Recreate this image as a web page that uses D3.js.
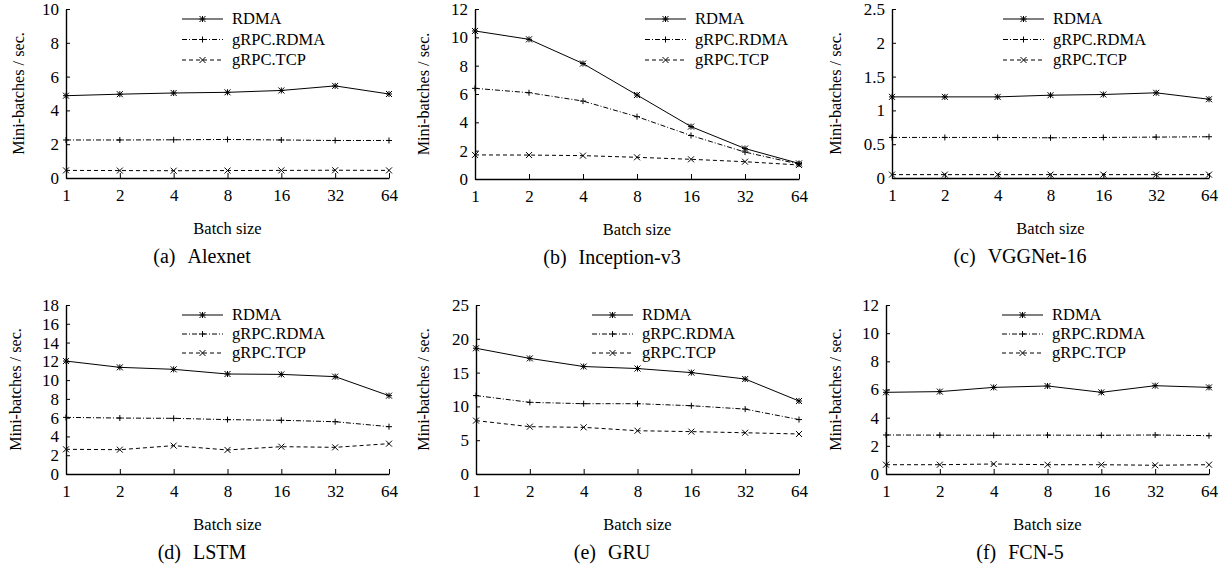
<!DOCTYPE html>
<html>
<head>
<meta charset="utf-8">
<script src="https://cdn.jsdelivr.net/npm/d3@7/dist/d3.min.js"></script>
<style>
  body { margin: 0; background: #fff; }
  svg text { font-family: "Liberation Serif", "Times New Roman", serif; fill: #000; }
</style>
</head>
<body>
<script>
// batch sizes on the x axis
var batches = ["1", "2", "4", "8", "16", "32", "64"];
var seriesNames = ["RDMA", "gRPC.RDMA", "gRPC.TCP"];

// values (mini-batches / sec.)
var alexnetRdma   = [4.87, 4.96, 5.03, 5.07, 5.18, 5.45, 4.97];
var alexnetGrpcR  = [2.25, 2.25, 2.26, 2.28, 2.25, 2.22, 2.22];
var alexnetTcp    = [0.45, 0.44, 0.43, 0.44, 0.45, 0.46, 0.45];

var inceptionRdma  = [10.45, 9.86, 8.15, 5.93, 3.7, 2.15, 1.1];
var inceptionGrpcR = [6.4, 6.09, 5.5, 4.4, 3.07, 1.9, 1.05];
var inceptionTcp   = [1.7, 1.69, 1.65, 1.53, 1.39, 1.22, 0.99];

var vggRdma   = [1.2, 1.2, 1.2, 1.225, 1.235, 1.26, 1.165];
var vggGrpcR  = [0.6, 0.6, 0.6, 0.595, 0.6, 0.605, 0.61];
var vggTcp    = [0.05, 0.05, 0.05, 0.05, 0.05, 0.05, 0.05];

var lstmRdma  = [12.03, 11.36, 11.15, 10.65, 10.61, 10.37, 8.34];
var lstmGrpcR = [6.03, 5.96, 5.93, 5.79, 5.72, 5.57, 5.04];
var lstmTcp   = [2.63, 2.59, 3.02, 2.56, 2.91, 2.84, 3.23];

var gruRdma   = [18.6, 17.1, 15.9, 15.6, 15.0, 14.05, 10.8];
var gruGrpcR  = [11.6, 10.6, 10.4, 10.4, 10.1, 9.6, 8.05];
var gruTcp    = [7.9, 7.0, 6.9, 6.4, 6.27, 6.1, 5.92];

var fcnRdma   = [5.8, 5.85, 6.15, 6.25, 5.8, 6.27, 6.15];
var fcnGrpcR  = [2.77, 2.76, 2.75, 2.76, 2.75, 2.77, 2.72];
var fcnTcp    = [0.66, 0.66, 0.71, 0.66, 0.66, 0.62, 0.66];

var captionTags  = ["(a)", "(b)", "(c)", "(d)", "(e)", "(f)"];
var captionNames = ["Alexnet", "Inception-v3", "VGGNet-16", "LSTM", "GRU", "FCN-5"];
var yMaxes = [10, 12, 2.5, 18, 25, 12];
var yTicks = [
  [0, 2, 4, 6, 8, 10],
  [0, 2, 4, 6, 8, 10, 12],
  [0, 0.5, 1, 1.5, 2, 2.5],
  [0, 2, 4, 6, 8, 10, 12, 14, 16, 18],
  [0, 5, 10, 15, 20, 25],
  [0, 2, 4, 6, 8, 10, 12]
];
var panelSeries = [
  [alexnetRdma, alexnetGrpcR, alexnetTcp],
  [inceptionRdma, inceptionGrpcR, inceptionTcp],
  [vggRdma, vggGrpcR, vggTcp],
  [lstmRdma, lstmGrpcR, lstmTcp],
  [gruRdma, gruGrpcR, gruTcp],
  [fcnRdma, fcnGrpcR, fcnTcp]
];

// layout of each sub plot (pixels)
var layout = [
  {left: 66,  right: 389,  top: 9,   bottom: 178, ylab: 18,  legX: 182,  legY: 19,  legDy: 20.5, capX: 202},
  {left: 475, right: 799,  top: 9,   bottom: 179, ylab: 423, legX: 645,  legY: 19,  legDy: 20.5, capX: 612},
  {left: 892, right: 1209, top: 9,   bottom: 178, ylab: 835, legX: 1003, legY: 19,  legDy: 20.5, capX: 1020},
  {left: 66,  right: 389,  top: 305, bottom: 474, ylab: 15,  legX: 182,  legY: 315, legDy: 19,   capX: 202},
  {left: 476, right: 799,  top: 305, bottom: 474, ylab: 423, legX: 592,  legY: 315, legDy: 19,   capX: 612},
  {left: 886, right: 1209, top: 305, bottom: 474, ylab: 835, legX: 1002, legY: 315, legDy: 19,   capX: 1020}
];

var dashes = [null, "5,2,1,2", "4,3"];

// marker shapes: asterisk, plus, cross
function marker(kind, s) {
  var p = d3.path();
  if (kind === 0 || kind === 1) {
    p.moveTo(-s, 0); p.lineTo(s, 0);
    p.moveTo(0, -s); p.lineTo(0, s);
  }
  if (kind === 0 || kind === 2) {
    p.moveTo(-s, -s); p.lineTo(s, s);
    p.moveTo(-s, s); p.lineTo(s, -s);
  }
  return p.toString();
}

var svg = d3.select("body").append("svg")
  .attr("width", 1226)
  .attr("height", 567);

layout.forEach(function(L, i) {
  var g = svg.append("g");

  var x = d3.scalePoint().domain(batches).range([L.left, L.right]);
  var y = d3.scaleLinear().domain([0, yMaxes[i]]).range([L.bottom, L.top]);

  // axes, ticks pointing inward
  var yAxis = d3.axisLeft(y)
    .tickValues(yTicks[i])
    .tickFormat(d3.format("~g"))
    .tickSizeInner(-4)
    .tickSizeOuter(0)
    .tickPadding(7);
  var xAxis = d3.axisBottom(x)
    .tickSizeInner(-5)
    .tickSizeOuter(0)
    .tickPadding(11);

  var ga = g.append("g").attr("transform", "translate(" + L.left + ",0)").call(yAxis);
  var gb = g.append("g").attr("transform", "translate(0," + L.bottom + ")").call(xAxis);
  [ga, gb].forEach(function(a) {
    a.attr("font-family", null).attr("font-size", null);
    a.select(".domain").attr("stroke", "#000").attr("stroke-width", 1.4);
    a.selectAll(".tick line").attr("stroke", "#000").attr("stroke-width", 1);
    a.selectAll("text")
      .style("font-size", "17px")
      .attr("fill", "#000");
  });

  // series lines and markers
  panelSeries[i].forEach(function(vals, k) {
    var line = d3.line()
      .x(function(d, j) { return x(batches[j]); })
      .y(function(d) { return y(d); });
    g.append("path")
      .attr("d", line(vals))
      .attr("fill", "none")
      .attr("stroke", "#000")
      .attr("stroke-width", 1)
      .attr("stroke-dasharray", dashes[k]);
    g.selectAll(".m" + k)
      .data(vals)
      .enter()
      .append("path")
      .attr("transform", function(d, j) {
        return "translate(" + x(batches[j]) + "," + y(d) + ")";
      })
      .attr("d", marker(k, 3))
      .attr("fill", "none")
      .attr("stroke", "#000")
      .attr("stroke-width", 1);
  });

  // legend
  seriesNames.forEach(function(name, k) {
    var ly = L.legY + k * L.legDy;
    g.append("line")
      .attr("x1", L.legX).attr("x2", L.legX + 41)
      .attr("y1", ly).attr("y2", ly)
      .attr("stroke", "#000")
      .attr("stroke-width", 1)
      .attr("stroke-dasharray", dashes[k]);
    g.append("path")
      .attr("transform", "translate(" + (L.legX + 20.5) + "," + ly + ")")
      .attr("d", marker(k, 3))
      .attr("stroke", "#000")
      .attr("stroke-width", 1);
    g.append("text")
      .attr("x", L.legX + 50)
      .attr("y", ly)
      .attr("dy", "0.33em")
      .style("font-size", "16.5px")
      .text(name);
  });

  // axis titles and caption
  g.append("text")
    .attr("transform", "translate(" + L.ylab + "," + ((L.top + L.bottom) / 2) + ") rotate(-90)")
    .attr("text-anchor", "middle")
    .attr("dy", "0.35em")
    .style("font-size", "16.2px")
    .text("Mini-batches / sec.");

  g.append("text")
    .attr("x", (L.left + L.right) / 2)
    .attr("y", L.bottom + 56)
    .attr("text-anchor", "middle")
    .style("font-size", "16.5px")
    .text("Batch size");

  var cap = g.append("text")
    .attr("x", L.capX)
    .attr("y", L.bottom + 85)
    .attr("text-anchor", "middle")
    .style("font-size", "20px");
  cap.append("tspan").text(captionTags[i]);
  cap.append("tspan").attr("dx", 12).text(captionNames[i]);
});
</script>
</body>
</html>
